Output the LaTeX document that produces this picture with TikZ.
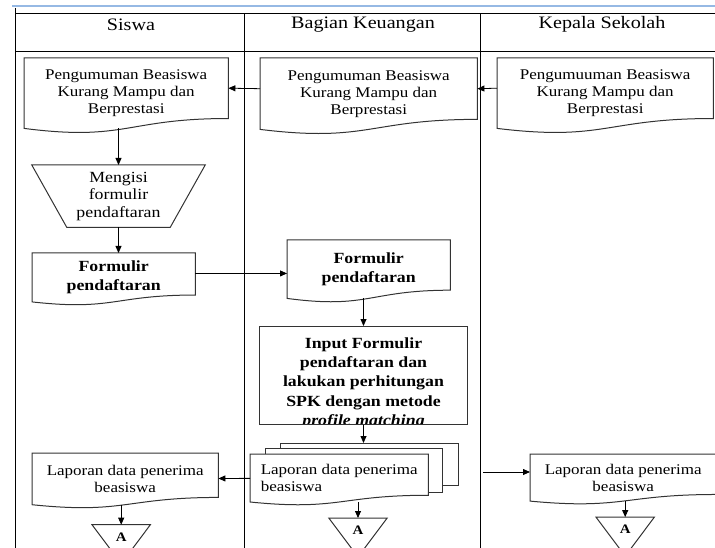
\documentclass[tikz,border=0pt]{standalone}
\usepackage{fontspec}
\setmainfont[FakeStretch=1.15]{Liberation Serif}
\usetikzlibrary{positioning,calc,arrows.meta}
\usetikzlibrary{positioning}

\definecolor{topblue}{RGB}{150,185,228}

\tikzstyle{lane} = [line width=1pt]
\tikzstyle{hdr} = [font=\fontsize{17.5}{21}\selectfont]
\tikzstyle{doc} = [rectangle, anchor=north west, inner sep=2pt, align=center, font=\fontsize{14.8}{17}\selectfont]
\tikzstyle{docbold} = [doc, font=\bfseries\fontsize{15.5}{19}\selectfont]
\tikzstyle{docline} = [draw=black!80, line width=1pt]
\tikzstyle{block} = [rectangle, draw=black!80, line width=1pt, anchor=north west]
\tikzstyle{conn} = [rectangle, anchor=north, minimum width=58pt, minimum height=24pt, inner sep=0pt, font=\bfseries\fontsize{13}{13}\selectfont]
\tikzstyle{arr} = [-{Triangle[length=7pt,width=6pt]}, line width=0.8pt]

% document outline with the wavy bottom
\newcommand{\drawdoc}[1]{%
  \draw[docline] let \p1=(#1.north west), \p2=(#1.south east),
    \n1={0.1405*(\y1-\y2)}, \n2={0.1865*(\y1-\y2)}, \n3={(\x1+\x2)/2} in
    (\p1) -- (\x2,\y1) -- (\x2,{\y2+\n1}) .. controls (\n3,{\y2+\n1}) and (\n3,{\y2-\n2}) .. (\x1,\y2) -- cycle;}

\begin{document}
\begin{tikzpicture}[x=1pt,y=-1pt]
    \useasboundingbox (0,0) rectangle (715,548);
    \clip (0,0) rectangle (715,548);

    % swimlanes
    \draw[line width=2pt, topblue] (12,6.5) -- (715,6.5);
    \draw[lane] (15,8) -- (15,548);
    \draw[lane] (15,14) -- (715,14);
    \draw[lane] (15,51.5) -- (715,51.5);
    \draw[lane] (244,14) -- (244,548);
    \draw[lane] (480,14) -- (480,548);
    \node[hdr] (hSiswa) at (131,24.5) {Siswa};
    \node[hdr] (hKeuangan) at (363,24.5) {Bagian Keuangan};
    \node[hdr] (hKepala) at (602,24.5) {Kepala Sekolah};

    % pengumuman
    \node[doc, minimum width=204pt, minimum height=70pt] (pengS) at (24,58) {Pengumuman Beasiswa\\Kurang Mampu dan\\Berprestasi};
    \node[doc, minimum width=217pt, minimum height=71pt] (pengK) at (260,58) {Pengumuman Beasiswa\\Kurang Mampu dan\\Berprestasi};
    \node[doc, minimum width=216pt, minimum height=70pt] (pengP) at (497,58) {Pengumuuman Beasiswa\\Kurang Mampu dan\\Berprestasi};

    % formulir
    \node[doc, anchor=north, minimum width=173pt, minimum height=62pt, font=\fontsize{15.5}{17.5}\selectfont] (isi) at (118.5,165) {Mengisi\\formulir\\pendaftaran};
    \draw[docline] (isi.north west) -- (isi.north east) -- ([xshift=-35pt]isi.south east) -- ([xshift=35pt]isi.south west) -- cycle;
    \node[docbold, minimum width=163pt, minimum height=48.5pt] (formS) at (32,253) {Formulir\\pendaftaran};
    \node[docbold, minimum width=163pt, minimum height=58pt] (formK) at (287,240) {Formulir\\pendaftaran};

    \node[block, minimum width=208pt, minimum height=98pt,
      path picture={\node[anchor=north, align=center, inner sep=0pt, font=\bfseries\fontsize{15.5}{19.3}\selectfont]
        at ([yshift=-7pt]path picture bounding box.north) {Input Formulir\\pendaftaran dan\\lakukan perhitungan\\SPK dengan metode\\\textit{profile matching}};}] (proses) at (259,326) {};

    % laporan
    \draw[docline] (280,448.5) |- (458,443) |- (442.5,485);
    \draw[docline] (265,454) |- (442.5,448.5) |- (428,492);
    \coordinate (tumpukan) at (363,443);
    \node[doc, align=left, minimum width=178pt, minimum height=47.6pt] (lapK) at (250,454) {Laporan data penerima\\beasiswa};
    \node[doc, minimum width=186pt, minimum height=51.3pt] (lapS) at (32,453) {Laporan data penerima\\beasiswa};
    \node[doc, minimum width=186pt, minimum height=46.7pt] (lapP) at (530,454) {Laporan data penerima\\beasiswa};

    \foreach \d in {pengS,pengK,pengP,formS,formK,lapS,lapK,lapP} {\drawdoc{\d}}

    \node[conn, below=20pt of lapS, xshift=-4pt] (triS) {A};
    \node[conn] (triK) at (358,518) {A};
    \node[conn, below=16pt of lapP, xshift=2pt] (triP) {A};
    \foreach \t in {triS,triK,triP}
      \draw[docline] (\t.north west) -- (\t.north east) -- ([yshift=-39pt]\t.north) -- cycle;

    \coordinate (kirim) at (483,472);

    \draw[arr] ([yshift=5pt]pengP.west) -- ([yshift=5pt]pengK.east);
    \draw[arr] ([yshift=5pt]pengK.west) -- ([yshift=5pt]pengS.east);
    \draw[arr] (isi.north |- pengS.south) -- (isi);
    \draw[arr] (isi.south) -- (isi.south |- formS.north);
    \draw[arr] ([yshift=4pt]formS.east) -- ([yshift=4pt]formS.east -| formK.west);
    \draw[arr] (proses.north |- formK.south) -- (proses);
    \draw[arr] (proses.south) -- (proses.south |- tumpukan);
    \draw[arr] (lapK) -- (lapS);
    \draw[arr] (kirim) -- (kirim -| lapP.west);
    \draw[arr] (triS.north |- lapS.south) -- (triS);
    \draw[arr] (triK.north |- lapK.south) -- (triK);
    \draw[arr] (triP.north |- lapP.south) -- (triP);
\end{tikzpicture}
\end{document}
